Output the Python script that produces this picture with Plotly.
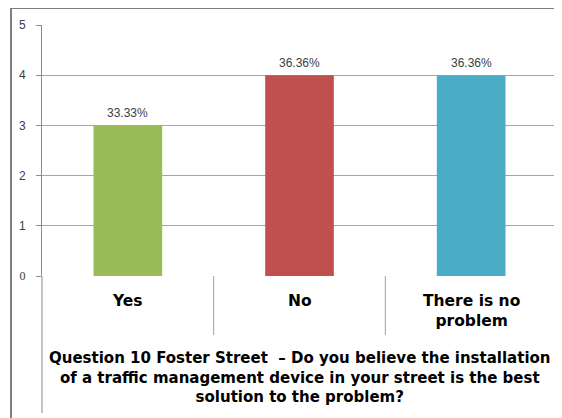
import plotly.graph_objects as go

categories = ["Yes", "No", "There is no<br>problem"]
values = [3, 4, 4]
labels = ["33.33%", "36.36%", "36.36%"]
colors = ["#9BBB59", "#C0504D", "#4BACC6"]
y_ticks = [0, 1, 2, 3, 4, 5]
title_text = ("Question 10 Foster Street  – Do you believe the installation<br>"
              "of a traffic management device in your street is the best<br>"
              "solution to the problem?")

# the page places the figure 8px from the top-left corner
OFF = 8
W, H = 562 - OFF, 418 - OFF
# plot area in page pixels: x 42..557, y 25..276
L, T = 42 - OFF, 25 - OFF
R = W - (557 - OFF)
B = H - (276 - OFF)
pw, ph = W - L - R, H - T - B

def px_x(x):
    return (x - OFF - L) / pw

def px_y(y):
    return (276 - y) / ph

xs = list(range(len(categories)))

fig = go.Figure()
fig.add_trace(go.Bar(
    x=xs, y=values, marker=dict(color=colors, line=dict(width=0)),
    width=0.4, hoverinfo="skip",
))

ann = []
for i, (v, lab) in enumerate(zip(values, labels)):
    ann.append(dict(x=i, y=v, xref="x", yref="y", text=lab, showarrow=False,
                    yanchor="bottom", yshift=3,
                    font=dict(family="Liberation Sans", size=12, color="#404040")))
for i, c in enumerate(categories):
    ann.append(dict(x=i, y=px_y(290), xref="x", yref="paper", text="<b>" + c + "</b>",
                    showarrow=False, yanchor="top",
                    font=dict(family="DejaVu Sans", size=15.5, color="#000000")))
ann.append(dict(x=0.5, y=px_y(347), xref="paper", yref="paper", text="<b>" + title_text + "</b>",
                showarrow=False, yanchor="top", xanchor="center",
                font=dict(family="DejaVu Sans", size=15, color="#000000")))

shapes = []
for b in [0.5, 1.5]:
    shapes.append(dict(type="line", xref="x", yref="paper", x0=b, x1=b,
                       y0=0, y1=px_y(335), line=dict(color="#A0A0A0", width=1)))
shapes.append(dict(type="line", xref="x", yref="paper", x0=2.5, x1=2.5,
                   y0=0, y1=px_y(397), line=dict(color="#A0A0A0", width=1)))
shapes.append(dict(type="line", xref="paper", yref="paper", x0=0, x1=0,
                   y0=0, y1=px_y(413), line=dict(color="#8C8C8C", width=1)))
shapes.append(dict(type="line", xref="paper", yref="paper", x0=px_x(11), x1=px_x(11),
                   y0=px_y(8), y1=px_y(425), line=dict(color="#7F7F7F", width=2)))
shapes.append(dict(type="line", xref="paper", yref="paper", x0=px_x(11), x1=px_x(575),
                   y0=px_y(8), y1=px_y(8), line=dict(color="#7F7F7F", width=2)))

tick_text = []
for t in y_ticks:
    if t == 0:
        tick_text.append('<span style="font-family:\'Liberation Serif\'">0</span>')
    else:
        tick_text.append(str(t))

fig.update_layout(
    width=W, height=H,
    margin=dict(l=L, r=R, t=T, b=B, pad=0),
    paper_bgcolor="white", plot_bgcolor="white",
    showlegend=False,
    annotations=ann, shapes=shapes,
    xaxis=dict(range=[-0.5, 2.5], showticklabels=False, showgrid=False,
               zeroline=False, showline=False, ticks=""),
    yaxis=dict(range=[0, 5], tickvals=y_ticks, ticktext=tick_text,
               showgrid=True, gridcolor="#A6A6A6", gridwidth=1,
               zeroline=False, showline=True, linecolor="#8C8C8C", linewidth=1,
               ticks="outside", ticklen=5, tickcolor="#8C8C8C",
               ticklabelstandoff=8,
               tickfont=dict(family="Liberation Sans", size=12, color="#404040")),
)

fig.write_html("out.html")
